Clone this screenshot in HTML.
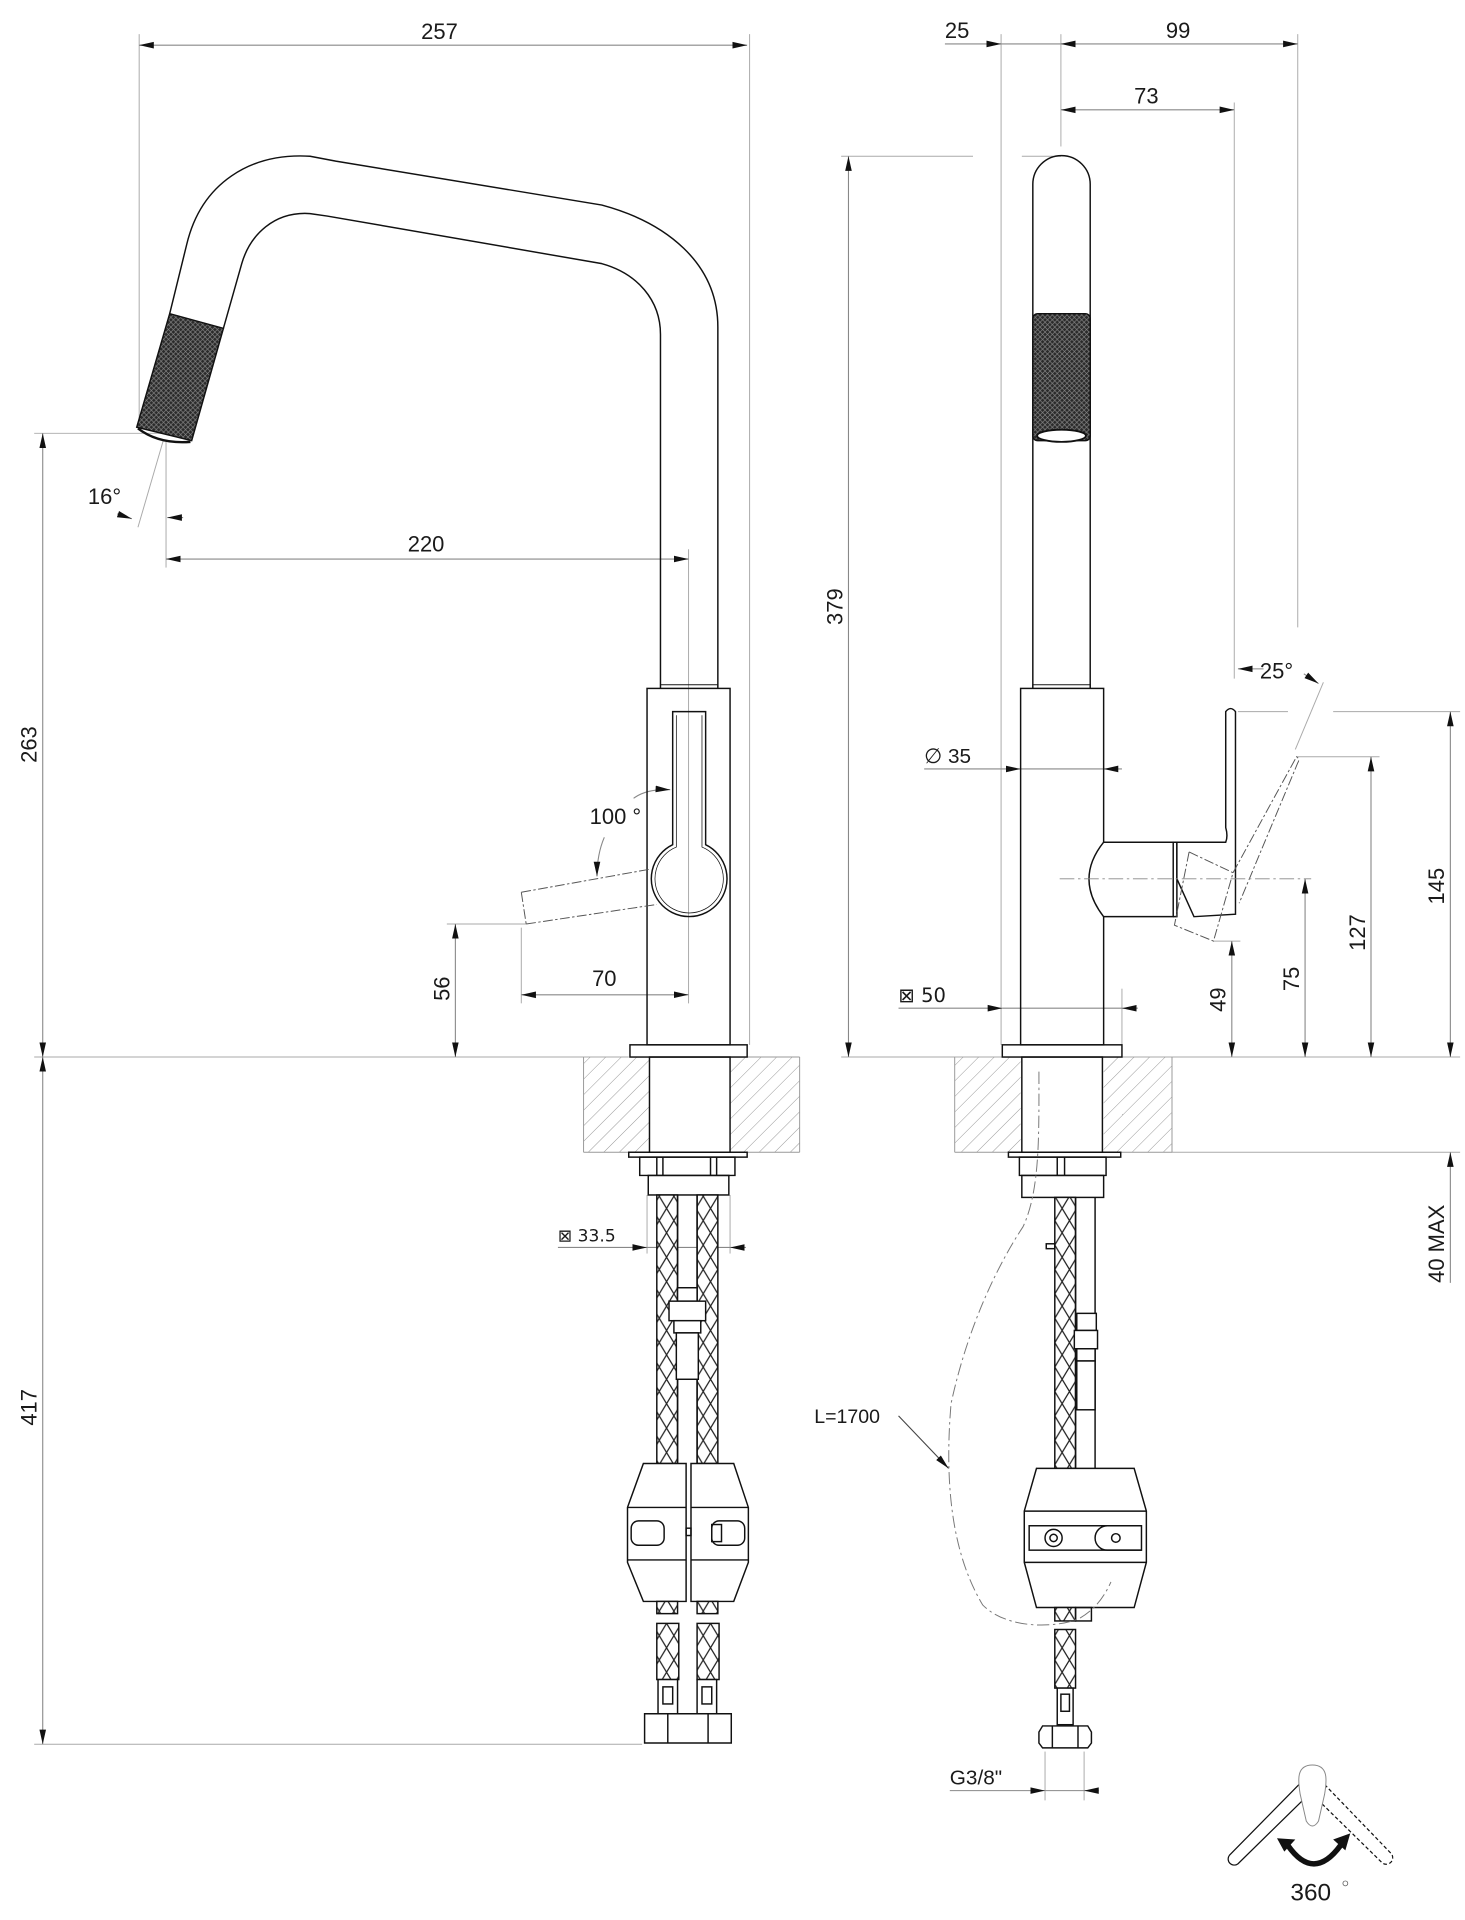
<!DOCTYPE html>
<html><head><meta charset="utf-8"><style>
html,body{margin:0;padding:0;background:#fff;}
svg{display:block;}
text{font-family:"Liberation Sans","DejaVu Sans",sans-serif;fill:#1a1a1a;font-size:18px;}
</style></head><body>
<svg width="1465" height="1920" viewBox="0 0 1200 1573" preserveAspectRatio="none" xmlns="http://www.w3.org/2000/svg">
<defs>
<marker id="ar" viewBox="0 0 12 6" refX="12" refY="3" markerWidth="12" markerHeight="6" markerUnits="userSpaceOnUse" orient="auto-start-reverse"><path d="M0,0.3 L12,3 L0,5.7 Z" fill="#111"/></marker>
<pattern id="knurl" width="4" height="4" patternUnits="userSpaceOnUse"><rect width="4" height="4" fill="#2a2a2a"/><path d="M0,0 L4,4 M4,0 L0,4" stroke="#888" stroke-width="0.5"/></pattern>
<pattern id="braid" width="12" height="20" patternUnits="userSpaceOnUse"><rect width="12" height="20" fill="#fff"/><path d="M0,0 L12,20 M12,0 L0,20" stroke="#222" stroke-width="1"/></pattern>
<pattern id="hatch" width="9" height="9" patternUnits="userSpaceOnUse" patternTransform="rotate(45)"><line x1="0" y1="0" x2="0" y2="9" stroke="#888" stroke-width="0.7"/></pattern>
</defs>

<g fill="none" stroke="#aaa" stroke-width="0.8">
<line x1="114" y1="28" x2="114" y2="352"/>
<line x1="614" y1="28" x2="614" y2="856"/>
<line x1="28" y1="355" x2="135" y2="355"/>
<line x1="136" y1="362" x2="136" y2="465"/>
<line x1="134" y1="360" x2="113" y2="432"/>
<line x1="564" y1="450" x2="564" y2="822"/>
<line x1="366" y1="757" x2="431" y2="757"/>
<line x1="427" y1="760" x2="427" y2="822"/>
<line x1="28" y1="866" x2="515" y2="866"/>
<line x1="28" y1="1429" x2="526" y2="1429"/>
<line x1="530" y1="979" x2="530" y2="1027"/>
<line x1="598" y1="979" x2="598" y2="1027"/>
<line x1="820" y1="28" x2="820" y2="856"/>
<line x1="869" y1="28" x2="869" y2="120"/>
<line x1="1063" y1="28" x2="1063" y2="514"/>
<line x1="1011" y1="84" x2="1011" y2="556"/>
<line x1="689" y1="128" x2="797" y2="128"/>
<line x1="837" y1="128" x2="869" y2="128"/>
<line x1="919" y1="810" x2="919" y2="856"/>
<line x1="1014" y1="583" x2="1055" y2="583"/>
<line x1="1092" y1="583" x2="1196" y2="583"/>
<line x1="1062" y1="620" x2="1130" y2="620"/>
<line x1="994" y1="771" x2="1016" y2="771"/>
<line x1="689" y1="866" x2="821" y2="866"/>
<line x1="919" y1="866" x2="1196" y2="866"/>
<line x1="960" y1="944" x2="1196" y2="944"/>
<line x1="856" y1="1435" x2="856" y2="1475"/>
<line x1="888" y1="1435" x2="888" y2="1475"/>
<line x1="1084" y1="559" x2="1061" y2="614"/>
</g>

<g stroke="#888" stroke-width="0.9" fill="none">
<line x1="114" y1="37" x2="612" y2="37" marker-start="url(#ar)" marker-end="url(#ar)"/>
<line x1="136" y1="458" x2="564" y2="458" marker-start="url(#ar)" marker-end="url(#ar)"/>
<line x1="35" y1="355" x2="35" y2="866" marker-start="url(#ar)" marker-end="url(#ar)"/>
<line x1="35" y1="866" x2="35" y2="1429" marker-start="url(#ar)" marker-end="url(#ar)"/>
<line x1="373" y1="757" x2="373" y2="866" marker-start="url(#ar)" marker-end="url(#ar)"/>
<line x1="427" y1="815" x2="564" y2="815" marker-start="url(#ar)" marker-end="url(#ar)"/>
<line x1="96" y1="421" x2="108" y2="425" marker-end="url(#ar)"/>
<line x1="150" y1="424" x2="137" y2="424" marker-end="url(#ar)"/>
<path d="M519,654 Q530,646 549,647" marker-end="url(#ar)"/>
<path d="M495,686 Q489,700 489,718" marker-end="url(#ar)"/>
<line x1="457" y1="1022" x2="530" y2="1022" marker-end="url(#ar)"/>
<line x1="611" y1="1022" x2="598" y2="1022" marker-end="url(#ar)"/>
<line x1="530" y1="1022" x2="598" y2="1022"/>
<line x1="695" y1="128" x2="695" y2="866" marker-start="url(#ar)" marker-end="url(#ar)"/>
<line x1="774" y1="36" x2="820" y2="36" marker-end="url(#ar)"/>
<line x1="869" y1="36" x2="1063" y2="36" marker-start="url(#ar)" marker-end="url(#ar)"/>
<line x1="820" y1="36" x2="869" y2="36"/>
<line x1="869" y1="90" x2="1011" y2="90" marker-start="url(#ar)" marker-end="url(#ar)"/>
<line x1="757" y1="630" x2="836" y2="630" marker-end="url(#ar)"/>
<line x1="919" y1="630" x2="904" y2="630" marker-end="url(#ar)"/>
<line x1="836" y1="630" x2="904" y2="630"/>
<line x1="736" y1="826" x2="821" y2="826" marker-end="url(#ar)"/>
<line x1="932" y1="826" x2="919" y2="826" marker-end="url(#ar)"/>
<line x1="821" y1="826" x2="919" y2="826"/>
<line x1="1009" y1="771" x2="1009" y2="866" marker-start="url(#ar)" marker-end="url(#ar)"/>
<line x1="1069" y1="720" x2="1069" y2="866" marker-start="url(#ar)" marker-end="url(#ar)"/>
<line x1="1123" y1="620" x2="1123" y2="866" marker-start="url(#ar)" marker-end="url(#ar)"/>
<line x1="1188" y1="583" x2="1188" y2="866" marker-start="url(#ar)" marker-end="url(#ar)"/>
<line x1="1188" y1="1051" x2="1188" y2="944" marker-end="url(#ar)"/>
<line x1="1035" y1="548" x2="1014" y2="548" marker-end="url(#ar)"/>
<line x1="1068" y1="552" x2="1080" y2="560" marker-end="url(#ar)"/>
<line x1="778" y1="1467" x2="856" y2="1467" marker-end="url(#ar)"/>
<line x1="900" y1="1467" x2="888" y2="1467" marker-end="url(#ar)"/>
<line x1="856" y1="1467" x2="888" y2="1467"/>
<line x1="736" y1="1160" x2="777" y2="1203" marker-end="url(#ar)" stroke="#444"/>
</g>

<rect x="478" y="866" width="54" height="78" fill="url(#hatch)"/>
<rect x="598" y="866" width="57" height="78" fill="url(#hatch)"/>
<rect x="782" y="866" width="54" height="78" fill="url(#hatch)"/>
<rect x="904" y="866" width="56" height="78" fill="url(#hatch)"/>
<g stroke="#999" stroke-width="0.8" fill="none">
<line x1="478" y1="944" x2="655" y2="944"/><line x1="478" y1="866" x2="478" y2="944"/><line x1="655" y1="866" x2="655" y2="944"/><line x1="598" y1="866" x2="655" y2="866"/>
<line x1="782" y1="944" x2="960" y2="944"/><line x1="782" y1="866" x2="782" y2="944"/><line x1="960" y1="866" x2="960" y2="944"/>
</g>

<g stroke="#111" stroke-width="1.2" fill="none">
<path d="M139,257 L153,200 C165,150 205,125 254,128 L275,132 L493,168 C545,182 588,215 588,268 L588,564"/>
<path d="M183,269 L198,216 C205,192 225,173 254,175 L268,177 L493,216 C522,224 541,246 541,274 L541,564"/>
<path d="M139,257 L183,269 L157,361 L112,350 Z" fill="url(#knurl)"/>
<path d="M113,351 Q130,364 156,362" stroke-width="2"/>
<rect x="530" y="564" width="68" height="292"/>
<rect x="541" y="561" width="47" height="3" stroke-width="0.8"/>
<path d="M551,583 L551,692 A31,31 0 1 0 578,692 L578,583 Z"/>
<path d="M554,586 L554,694 A28,28 0 1 0 575,694 L575,586" stroke-width="0.6"/>
<path d="M427,731 L533,712 M431,757 L538,741 M427,731 L431,757" stroke="#555" stroke-width="0.8" stroke-dasharray="8,2,2,2"/>
<rect x="516" y="856" width="96" height="10"/>
<rect x="532" y="866" width="66" height="78"/>
<rect x="515" y="944" width="97" height="4"/>
<path d="M524,948 L602,948 L602,963 L524,963 Z M538,948 L538,963 M543,948 L543,963 M582,948 L582,963 M587,948 L587,963"/>
<rect x="531" y="963" width="66" height="16"/>
<rect x="538" y="979" width="17" height="220" fill="url(#braid)"/>
<rect x="571" y="979" width="17" height="220" fill="url(#braid)"/>
<line x1="555" y1="979" x2="555" y2="1199"/><line x1="571" y1="979" x2="571" y2="1199"/>
<rect x="555" y="1055" width="16" height="11" fill="#fff"/>
<rect x="548" y="1066" width="30" height="16" fill="#fff"/>
<rect x="552" y="1082" width="22" height="10" fill="#fff"/>
<rect x="554" y="1092" width="18" height="38" fill="#fff"/>
<path d="M527,1199 L562,1199 L562,1312 L527,1312 L514,1280 L514,1235 Z" fill="#fff"/>
<path d="M566,1199 L601,1199 L613,1235 L613,1280 L601,1312 L566,1312 Z" fill="#fff"/>
<path d="M514,1235 L562,1235 M514,1278 L562,1278 M566,1235 L613,1235 M566,1278 L613,1278"/>
<rect x="517" y="1246" width="27" height="20" rx="6"/>
<rect x="583" y="1246" width="27" height="20" rx="6"/>
<rect x="583" y="1249" width="8" height="14"/>
<rect x="562" y="1252" width="4" height="6"/>
<rect x="538" y="1312" width="17" height="10" fill="url(#braid)"/>
<rect x="571" y="1312" width="17" height="10" fill="url(#braid)"/>
<rect x="538" y="1330" width="18" height="46" fill="url(#braid)"/>
<rect x="571" y="1330" width="18" height="46" fill="url(#braid)"/>
<rect x="539" y="1376" width="16" height="28" fill="#fff"/>
<rect x="543" y="1382" width="8" height="14"/>
<rect x="571" y="1376" width="16" height="28" fill="#fff"/>
<rect x="575" y="1382" width="8" height="14"/>
<path d="M528,1404 L599,1404 L599,1428 L528,1428 Z M547,1404 L547,1428 M580,1404 L580,1428"/>
</g>

<g stroke="#111" stroke-width="1.2" fill="none">
<path d="M846,564 L846,151 A23.5,23.5 0 0 1 893,151 L893,564"/>
<rect x="846" y="257" width="47" height="104" rx="4" fill="url(#knurl)"/>
<ellipse cx="869.5" cy="357" rx="20" ry="5" fill="#fff" stroke-width="1.5"/>
<rect x="836" y="564" width="68" height="292"/>
<rect x="846" y="561" width="47" height="3" stroke-width="0.8"/>
<path d="M904,690 L961,690 L961,751 L904,751 Q880,720 904,690 Z" fill="#fff"/>
<path d="M961,690 L964,690 L964,751 L961,751"/>
<path d="M964,690 L1004,690 Q1006,685 1004,678 L1004,583 Q1008,578 1012,583 L1012,749 L978,751 L964,720 Z" fill="#fff"/>
<path d="M974,698 L1010,715 M974,698 L962,758 L994,771 L1010,715 M1010,715 L1062,620 Q1065,622 1063,625 L1015,740" stroke="#555" stroke-width="0.8" stroke-dasharray="8,2,2,2"/>
<line x1="868" y1="720" x2="1074" y2="720" stroke="#888" stroke-width="0.7" stroke-dasharray="12,3,2,3"/>
<rect x="821" y="856" width="98" height="10"/>
<rect x="837" y="866" width="66" height="78"/>
<rect x="826" y="944" width="92" height="4"/>
<path d="M835,948 L906,948 L906,963 L835,963 Z M866,948 L866,963 M872,948 L872,963"/>
<rect x="837" y="963" width="67" height="18"/>
<rect x="864" y="981" width="17" height="222" fill="url(#braid)"/>
<line x1="881" y1="981" x2="881" y2="1203"/><line x1="897" y1="981" x2="897" y2="1203"/>
<rect x="857" y="1019" width="7" height="4"/>
<rect x="882" y="1076" width="16" height="14" fill="#fff"/>
<rect x="880" y="1090" width="19" height="15" fill="#fff"/>
<rect x="882" y="1105" width="15" height="10" fill="#fff"/>
<rect x="882" y="1115" width="15" height="40" fill="#fff"/>
<path d="M849,1203 L929,1203 L939,1238 L939,1280 L929,1317 L849,1317 L839,1280 L839,1238 Z" fill="#fff"/>
<path d="M839,1238 L939,1238 M839,1280 L939,1280"/>
<rect x="843" y="1250" width="92" height="20"/>
<circle cx="863" cy="1260" r="7"/><circle cx="863" cy="1260" r="3"/>
<path d="M935,1250 L907,1250 A10,10 0 0 0 907,1270 L935,1270"/>
<circle cx="914" cy="1260" r="3.5"/>
<rect x="864" y="1317" width="17" height="11" fill="url(#braid)"/>
<rect x="881" y="1317" width="13" height="11"/>
<rect x="864" y="1335" width="17" height="48" fill="url(#braid)"/>
<rect x="866" y="1383" width="13" height="30" fill="#fff"/>
<rect x="869" y="1388" width="7" height="14"/>
<path d="M854,1414 L891,1414 L894,1419 L894,1428 L891,1432 L854,1432 L851,1428 L851,1419 Z M862,1414 L862,1432 M883,1414 L883,1432"/>
</g>
<path d="M851,878 C851,930 852,975 838,1005 C815,1040 792,1090 779,1150 C774,1210 778,1270 805,1315 C825,1335 865,1334 884,1326 C898,1318 905,1307 910,1296" fill="none" stroke="#777" stroke-width="0.8" stroke-dasharray="10,3,2,3"/>

<g stroke="#111" stroke-width="1" fill="none">
<path d="M1064,1462 L1007,1520 A5,5 0 0 0 1014,1527 L1067,1475"/>
<path d="M1085,1462 L1139,1518 A5,5 0 0 1 1132,1526 L1081,1476" stroke-dasharray="3,2"/>
<path d="M1075,1446 C1062,1446 1063,1458 1065,1470 L1070,1492 Q1075,1500 1080,1492 L1085,1470 C1087,1458 1088,1446 1075,1446 Z" fill="#fff" stroke="#888" stroke-width="0.8"/>
<path d="M1055,1512 Q1076,1542 1098,1512" stroke-width="4.5"/>
</g>
<path d="M1046,1506 L1061,1507 L1052,1517 Z" fill="#111"/>
<path d="M1106,1502 L1092,1507 L1102,1516 Z" fill="#111"/>
<text x="1057" y="1557" style="font-size:20px">360</text>
<circle cx="1102" cy="1543" r="2" fill="none" stroke="#555" stroke-width="0.6"/>

<text x="360" y="32" text-anchor="middle">257</text>
<text x="349" y="452" text-anchor="middle">220</text>
<text x="72" y="413">16°</text>
<text x="30" y="610" text-anchor="middle" transform="rotate(-90 30 610)">263</text>
<text x="30" y="1153" text-anchor="middle" transform="rotate(-90 30 1153)">417</text>
<text x="368" y="810" text-anchor="middle" transform="rotate(-90 368 810)">56</text>
<text x="495" y="808" text-anchor="middle">70</text>
<text x="483" y="675">100 °</text>
<text x="457" y="1017" style="font-family:'DejaVu Sans',sans-serif;font-size:14px">⊠ 33.5</text>
<text x="690" y="497" text-anchor="middle" transform="rotate(-90 690 497)">379</text>
<text x="784" y="31" text-anchor="middle">25</text>
<text x="965" y="31" text-anchor="middle">99</text>
<text x="939" y="85" text-anchor="middle">73</text>
<text x="757" y="625" style="font-size:17px">∅ 35</text>
<text x="736" y="821" style="font-family:'DejaVu Sans',sans-serif;font-size:16px">⊠ 50</text>
<text x="1004" y="819" text-anchor="middle" transform="rotate(-90 1004 819)">49</text>
<text x="1064" y="802" text-anchor="middle" transform="rotate(-90 1064 802)">75</text>
<text x="1118" y="764" text-anchor="middle" transform="rotate(-90 1118 764)">127</text>
<text x="1183" y="726" text-anchor="middle" transform="rotate(-90 1183 726)">145</text>
<text x="1183" y="1019" text-anchor="middle" transform="rotate(-90 1183 1019)">40 MAX</text>
<text x="1032" y="556">25°</text>
<text x="667" y="1166" style="font-size:16px">L=1700</text>
<text x="778" y="1462" style="font-size:17px">G3/8"</text>
</svg>
</body></html>
